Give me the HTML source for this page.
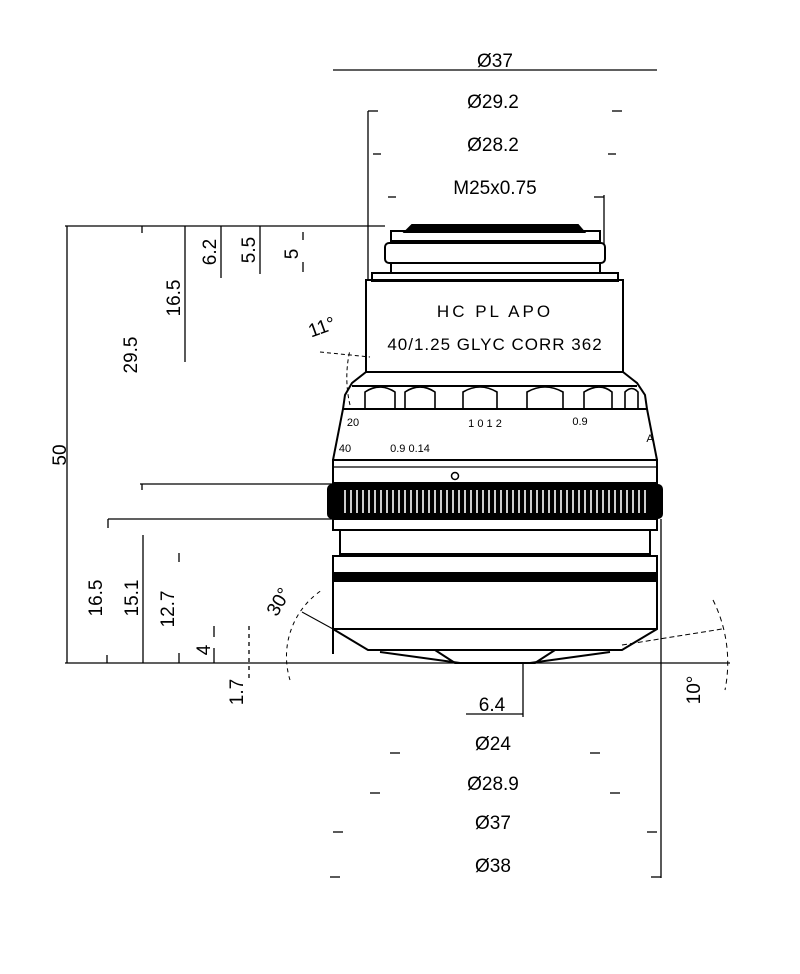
<!DOCTYPE html>
<html><head><meta charset="utf-8"><style>
html,body{margin:0;padding:0;background:#fff;}
svg{display:block}
text{font-family:"Liberation Sans Narrow","Liberation Sans",sans-serif;fill:#000}
</style></head><body>
<svg width="800" height="974" viewBox="0 0 800 974" xmlns="http://www.w3.org/2000/svg">
<g stroke="#000" fill="none" stroke-width="1.3">
<!-- main reference lines -->
<line x1="65" y1="226" x2="385" y2="226"/>
<line x1="65" y1="663" x2="730" y2="663"/>
<line x1="67" y1="226" x2="67" y2="663"/>
<line x1="142" y1="226" x2="142" y2="233"/>
<line x1="185" y1="226" x2="185" y2="362"/>
<line x1="221" y1="226" x2="221" y2="278"/>
<line x1="260" y1="226" x2="260" y2="274"/>
<line x1="303" y1="232" x2="303" y2="240"/><line x1="303" y1="262" x2="303" y2="272"/>
<line x1="140" y1="484" x2="332" y2="484"/>
<line x1="108" y1="519" x2="332" y2="519"/>
<line x1="108" y1="519" x2="108" y2="528"/><line x1="142" y1="484" x2="142" y2="490"/>
<line x1="143" y1="535" x2="143" y2="663"/>
<line x1="107" y1="655" x2="107" y2="663"/>
<line x1="179" y1="553" x2="179" y2="562"/><line x1="179" y1="653" x2="179" y2="663"/>
<line x1="214" y1="626" x2="214" y2="637"/><line x1="214" y1="648" x2="214" y2="663"/>
<line x1="249" y1="626" x2="249" y2="680" stroke-dasharray="4,4"/>
<!-- top dims -->
<line x1="333" y1="70" x2="657" y2="70"/>
<line x1="368" y1="111" x2="368" y2="280"/><line x1="368" y1="111" x2="378" y2="111"/>
<line x1="612" y1="111" x2="622" y2="111"/>
<line x1="373" y1="154" x2="381" y2="154"/><line x1="608" y1="154" x2="616" y2="154"/>
<line x1="388" y1="197" x2="396" y2="197"/><line x1="594" y1="197" x2="604" y2="197"/>
<line x1="604" y1="195" x2="604" y2="245"/>
<!-- bottom dims -->
<line x1="466" y1="714" x2="523" y2="714"/><line x1="523" y1="663" x2="523" y2="717"/>
<line x1="390" y1="753" x2="400" y2="753"/><line x1="590" y1="753" x2="600" y2="753"/>
<line x1="370" y1="793" x2="380" y2="793"/><line x1="610" y1="793" x2="620" y2="793"/>
<line x1="333" y1="832" x2="343" y2="832"/><line x1="647" y1="832" x2="657" y2="832"/>
<line x1="330" y1="877" x2="340" y2="877"/><line x1="651" y1="877" x2="661" y2="877"/>
<line x1="661" y1="519" x2="661" y2="878"/>
<!-- angles -->
<path d="M350 405 A120 120 0 0 1 350 350" stroke-dasharray="4,3" stroke-width="1"/>
<line x1="320" y1="352" x2="370" y2="357" stroke-dasharray="4,3" stroke-width="1"/>
<path d="M290 680 A80 80 0 0 1 322 590" stroke-dasharray="4,4" stroke-width="1"/>
<line x1="302" y1="612" x2="333" y2="629" stroke-width="1"/>
<line x1="622" y1="645" x2="722" y2="629" stroke-dasharray="5,3" stroke-width="1"/>
<path d="M713 600 A140 140 0 0 1 725 690" stroke-dasharray="5,4" stroke-width="1"/>
</g>
<!-- lens -->
<g stroke="#000" fill="none" stroke-width="2">
<path d="M405 232 L412 225 L578 225 L584 232 Z" fill="#000"/>
<rect x="391" y="231" width="209" height="10"/>
<rect x="385" y="243" width="220" height="20" rx="4"/>
<rect x="391" y="263" width="209" height="10"/>
<rect x="372" y="273" width="246" height="8"/>
<rect x="366" y="280" width="257" height="92"/>
<path d="M366 372 L352 383 L345 395 L343 409 L333 460 M623 372 L637 383 L645 395 L647 409 L657 460"/>
<line x1="352" y1="386" x2="637" y2="386"/>
<line x1="343" y1="409" x2="647" y2="409"/>
<path d="M365 408 V392 Q380 382 395 392 V408 M405 408 V392 Q420 382 435 392 V408 M463 408 V392 Q480 382 497 392 V408 M527 408 V392 Q545 382 563 392 V408 M584 408 V392 Q600 382 612 392 V408 M625 408 V392 Q632 385 638 392 V408" stroke-width="1.6"/>
<rect x="333" y="460" width="324" height="23"/>
<line x1="333" y1="467" x2="657" y2="467" stroke-width="1.3"/>
<circle cx="455" cy="476" r="3.5" stroke-width="1.5"/>
<rect x="328" y="485" width="334" height="33" rx="4" fill="#000"/>
<rect x="333" y="519" width="324" height="11"/>
<rect x="340" y="530" width="310" height="24"/>
<path d="M333 654 V556 H657 V629 L622 650 L555 650 L535 663 L455 663 L435 650 L368 650 L333 629 Z"/>
<rect x="333" y="573" width="324" height="8" fill="#000"/>
<line x1="333" y1="629" x2="657" y2="629"/>
<line x1="368" y1="650" x2="622" y2="650"/>
<line x1="380" y1="652" x2="460" y2="663"/><line x1="610" y1="652" x2="530" y2="663"/>
</g>
<g stroke="#fff" stroke-width="1.6">
<path d="M345 490 V513 M351 490 V513 M357 490 V513 M363 490 V513 M369 490 V513 M375 490 V513 M381 490 V513 M387 490 V513 M393 490 V513 M399 490 V513 M405 490 V513 M411 490 V513 M417 490 V513 M423 490 V513 M429 490 V513 M435 490 V513 M441 490 V513 M447 490 V513 M453 490 V513 M459 490 V513 M465 490 V513 M471 490 V513 M477 490 V513 M483 490 V513 M489 490 V513 M495 490 V513 M501 490 V513 M507 490 V513 M513 490 V513 M519 490 V513 M525 490 V513 M531 490 V513 M537 490 V513 M543 490 V513 M549 490 V513 M555 490 V513 M561 490 V513 M567 490 V513 M573 490 V513 M579 490 V513 M585 490 V513 M591 490 V513 M597 490 V513 M603 490 V513 M609 490 V513 M615 490 V513 M621 490 V513 M627 490 V513 M633 490 V513 M639 490 V513 M645 490 V513"/>
</g>
<!-- lens markings -->
<g font-size="15" text-anchor="middle" fill="#000">
<text x="495" y="317" font-size="17" letter-spacing="3" fill="#555">HC PL APO</text>
<text x="495" y="350" font-size="17" letter-spacing="1" fill="#555">40/1.25 GLYC CORR 362</text>
<text x="353" y="426" font-size="11" fill="#888">20</text>
<text x="485" y="427" font-size="11" fill="#888">1  0  1  2</text>
<text x="580" y="425" font-size="11" fill="#888">0.9</text>
<text x="345" y="452" font-size="11" fill="#888">40</text>
<text x="410" y="452" font-size="11" fill="#888">0.9  0.14</text>
<text x="650" y="442" font-size="11" fill="#888">A</text>
</g>
<!-- labels -->
<g font-size="19">
<text x="495" y="67" text-anchor="middle">Ø37</text>
<text x="493" y="108" text-anchor="middle">Ø29.2</text>
<text x="493" y="151" text-anchor="middle">Ø28.2</text>
<text x="495" y="194" text-anchor="middle">M25x0.75</text>
<text x="492" y="711" text-anchor="middle">6.4</text>
<text x="493" y="750" text-anchor="middle">Ø24</text>
<text x="493" y="790" text-anchor="middle">Ø28.9</text>
<text x="493" y="829" text-anchor="middle">Ø37</text>
<text x="493" y="872" text-anchor="middle">Ø38</text>
<text transform="translate(66,455) rotate(-90)" text-anchor="middle">50</text>
<text transform="translate(137,355) rotate(-90)" text-anchor="middle">29.5</text>
<text transform="translate(180,298) rotate(-90)" text-anchor="middle">16.5</text>
<text transform="translate(216,252) rotate(-90)" text-anchor="middle">6.2</text>
<text transform="translate(255,250) rotate(-90)" text-anchor="middle">5.5</text>
<text transform="translate(298,254) rotate(-90)" text-anchor="middle">5</text>
<text transform="translate(102,598) rotate(-90)" text-anchor="middle">16.5</text>
<text transform="translate(138,598) rotate(-90)" text-anchor="middle">15.1</text>
<text transform="translate(174,609) rotate(-90)" text-anchor="middle">12.7</text>
<text transform="translate(210,650) rotate(-90)" text-anchor="middle">4</text>
<text transform="translate(243,692) rotate(-90)" text-anchor="middle">1.7</text>
<text transform="translate(324,333) rotate(-20)" text-anchor="middle">11°</text>
<text transform="translate(284,605) rotate(-60)" text-anchor="middle">30°</text>
<text transform="translate(700,690) rotate(-90)" text-anchor="middle">10°</text>
</g>
</svg>
</body></html>
